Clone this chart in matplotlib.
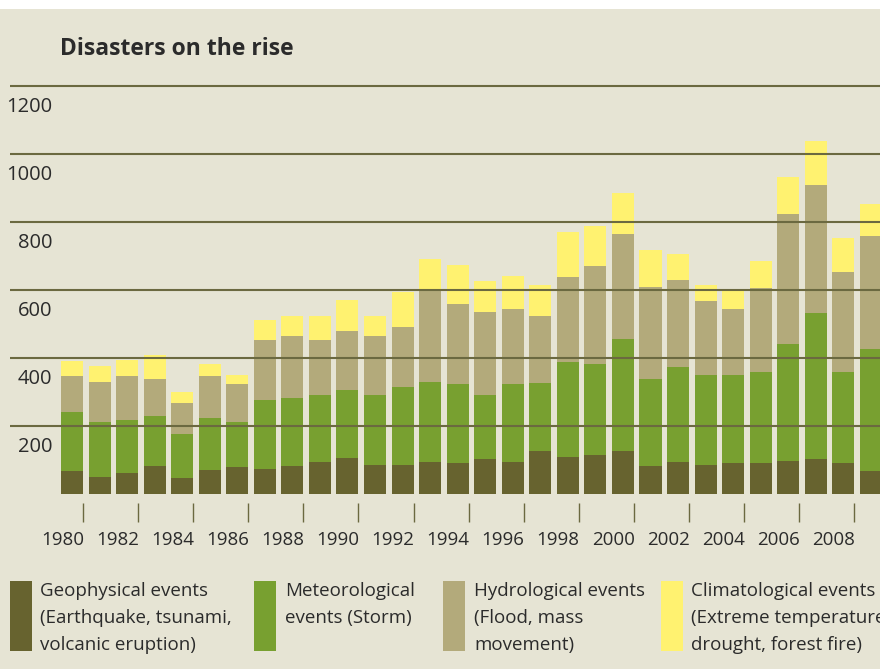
import matplotlib
matplotlib.use("Agg")
import numpy as np
import matplotlib.pyplot as plt
import matplotlib.transforms as mtransforms
from matplotlib.patches import Rectangle

# Number of natural disasters per year
years = list(range(1980, 2010))
geophysical = [68, 50, 62, 82, 47, 71, 79, 74, 82, 94, 106, 85, 85, 94, 91,
               103, 94, 126, 109, 115, 126, 82, 94, 85, 91, 91, 97, 103, 91, 68]
meteorological = [173, 162, 156, 147, 129, 153, 133, 202, 200, 197, 200, 206, 230, 235, 233,
                  188, 230, 200, 279, 267, 330, 256, 279, 265, 259, 268, 344, 429, 268, 358]
hydrological = [106, 117, 129, 109, 92, 123, 112, 177, 183, 162, 173, 174, 176, 268, 235,
                244, 220, 198, 250, 288, 309, 271, 256, 218, 194, 247, 383, 377, 294, 333]
climatological = [44, 48, 48, 71, 32, 35, 26, 59, 59, 71, 92, 59, 103, 94, 114,
                  91, 97, 91, 133, 118, 120, 109, 77, 47, 59, 79, 108, 129, 100, 94]

y_grid = [200, 400, 600, 800, 1000, 1200]

series_names = [
    "Geophysical events\n(Earthquake, tsunami,\nvolcanic eruption)",
    "Meteorological\nevents (Storm)",
    "Hydrological events\n(Flood, mass\nmovement)",
    "Climatological events\n(Extreme temperature,\ndrought, forest fire)",
]
colors = ["#67632f", "#78a030", "#b3aa7b", "#fff270"]

BG = "#e6e4d4"
GRID = "#6b6940"
TXT = "#2b2b2b"

plt.rcParams["font.family"] = ["Open Sans", "DejaVu Sans"]

W, H = 880, 669
fig = plt.figure(figsize=(W / 100, H / 100), dpi=100, facecolor=BG)

# white strip along the top edge
fig.patches.append(Rectangle((0, 1 - 9 / H), 1, 9 / H, transform=fig.transFigure,
                             facecolor="white", edgecolor="none"))

ax = fig.add_axes([10 / W, (H - 494) / H, 870 / W, 442 / H])
ax.set_facecolor("none")

x = np.arange(len(years))
bottom = np.zeros(len(years))
for vals, col in zip([geophysical, meteorological, hydrological, climatological], colors):
    ax.bar(x, vals, width=0.8, bottom=bottom, color=col, edgecolor="none")
    bottom += np.array(vals)

ax.set_xlim(-2.25, 29.33)
ax.set_ylim(0, 1300)

# grid lines over the bars
ax.set_axisbelow(False)
ax.set_yticks(y_grid)
ax.tick_params(axis="y", length=0, labelleft=False)
ax.yaxis.grid(True, color=GRID, linewidth=1.5)

# y labels sit just below each grid line
shift = mtransforms.ScaledTranslation(0, -0.21, fig.dpi_scale_trans)
for v in y_grid:
    ax.text(42 / 870, v, str(v), transform=ax.get_yaxis_transform() + shift,
            ha="right", va="center", fontsize=14.5, color=TXT)

# x axis: labels every second year, tick marks between bars
even = x[::2]
ax.set_xticks(even - 0.35)
ax.set_xticklabels([str(years[i]) for i in even])
ax.set_xticks(even + 0.4, minor=True)
ax.tick_params(axis="x", which="major", length=0, pad=20, labelsize=13.5, labelcolor=TXT)
ax.tick_params(axis="x", which="minor", length=13.5, width=1, color=GRID, direction="out")
ax.spines["bottom"].set_position(("outward", 6.5))
for s in ax.spines.values():
    s.set_visible(False)

fig.text(60 / W, 1 - 49 / H, "Disasters on the rise", fontsize=16.5, fontweight="bold",
         color=TXT, ha="left", va="center")

# legend drawn by hand
box_x = [10, 254, 443, 661]
text_x = [40, 285, 474, 691]
for bx, tx, name, col in zip(box_x, text_x, series_names, colors):
    fig.patches.append(Rectangle((bx / W, 1 - 651 / H), 22 / W, 70 / H,
                                 transform=fig.transFigure, facecolor=col, edgecolor="none"))
    fig.text(tx / W, 1 - 582 / H, name, fontsize=13.5, color=TXT, ha="left", va="top",
             linespacing=1.63)

fig.savefig("out.png", dpi=100, facecolor=BG)
